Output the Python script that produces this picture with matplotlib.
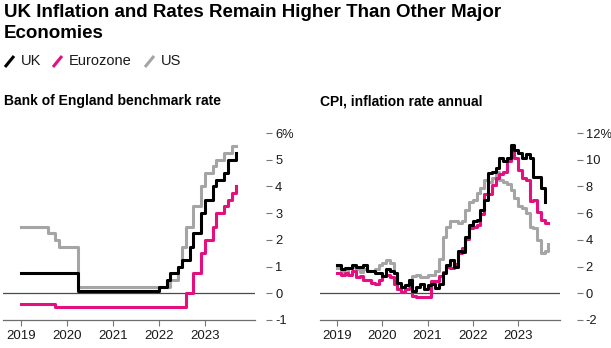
import numpy as np
import pandas as pd
import matplotlib
matplotlib.use("Agg")
import matplotlib.pyplot as plt
from matplotlib.lines import Line2D

plt.rcParams["font.family"] = ["Liberation Sans", "DejaVu Sans"]

# month slots, plotted Jan 2019 onwards (each value = previous month-end reading)
rate_months = pd.date_range("2019-01-01", periods=57, freq="MS")
cpi_months = pd.date_range("2019-01-01", periods=57, freq="MS")

# policy rates (%)
uk_rate = [0.75, 0.75, 0.75, 0.75, 0.75, 0.75, 0.75, 0.75, 0.75, 0.75, 0.75, 0.75,
           0.75, 0.75, 0.75, 0.1, 0.1, 0.1, 0.1, 0.1, 0.1, 0.1, 0.1, 0.1,
           0.1, 0.1, 0.1, 0.1, 0.1, 0.1, 0.1, 0.1, 0.1, 0.1, 0.1, 0.1,
           0.25, 0.25, 0.5, 0.75, 0.75, 1.0, 1.25, 1.25, 1.75, 2.25, 2.25, 3.0,
           3.5, 3.5, 4.0, 4.25, 4.25, 4.5, 5.0, 5.0, 5.25]
ez_rate = [-0.4, -0.4, -0.4, -0.4, -0.4, -0.4, -0.4, -0.4, -0.4, -0.5, -0.5, -0.5,
           -0.5, -0.5, -0.5, -0.5, -0.5, -0.5, -0.5, -0.5, -0.5, -0.5, -0.5, -0.5,
           -0.5, -0.5, -0.5, -0.5, -0.5, -0.5, -0.5, -0.5, -0.5, -0.5, -0.5, -0.5,
           -0.5, -0.5, -0.5, -0.5, -0.5, -0.5, -0.5, 0.0, 0.0, 0.75, 0.75, 1.5,
           2.0, 2.0, 2.5, 3.0, 3.0, 3.25, 3.5, 3.75, 4.0]
us_rate = [2.5, 2.5, 2.5, 2.5, 2.5, 2.5, 2.5, 2.25, 2.25, 2.0, 1.75, 1.75,
           1.75, 1.75, 1.75, 0.25, 0.25, 0.25, 0.25, 0.25, 0.25, 0.25, 0.25, 0.25,
           0.25, 0.25, 0.25, 0.25, 0.25, 0.25, 0.25, 0.25, 0.25, 0.25, 0.25, 0.25,
           0.25, 0.25, 0.25, 0.5, 0.5, 1.0, 1.75, 2.5, 2.5, 3.25, 3.25, 4.0,
           4.5, 4.5, 4.75, 5.0, 5.0, 5.25, 5.25, 5.5, 5.5]

# CPI, annual inflation (%)
uk_cpi = [2.1, 1.8, 1.9, 1.9, 2.1, 2.0, 2.0, 2.1, 1.7, 1.7, 1.5, 1.5,
          1.3, 1.8, 1.7, 1.5, 0.8, 0.5, 0.6, 1.0, 0.2, 0.5, 0.7, 0.3,
          0.6, 0.7, 0.4, 0.7, 1.5, 2.1, 2.5, 2.0, 3.2, 3.1, 4.2, 5.1,
          5.4, 5.5, 6.2, 7.0, 9.0, 9.1, 9.4, 10.1, 9.9, 10.1, 11.1, 10.7,
          10.5, 10.1, 10.4, 10.1, 8.7, 8.7, 7.9, 6.8]
ez_cpi = [1.5, 1.4, 1.5, 1.4, 1.7, 1.2, 1.3, 1.0, 1.0, 0.8, 0.7, 1.0,
          1.3, 1.4, 1.2, 0.7, 0.3, 0.1, 0.3, 0.4, -0.2, -0.3, -0.3, -0.3,
          -0.3, 0.9, 0.9, 1.3, 1.6, 2.0, 1.9, 2.2, 3.0, 3.4, 4.1, 4.9,
          5.0, 5.1, 5.9, 7.4, 7.4, 8.1, 8.6, 8.9, 9.1, 9.9, 10.6, 10.1,
          9.2, 8.6, 8.5, 6.9, 7.0, 6.1, 5.5, 5.3, 5.3]
us_cpi = [1.9, 1.6, 1.5, 1.9, 2.0, 1.8, 1.6, 1.8, 1.7, 1.7, 1.8, 2.1,
          2.3, 2.5, 2.3, 1.5, 0.3, 0.1, 0.6, 1.0, 1.3, 1.4, 1.2, 1.2,
          1.4, 1.4, 1.7, 2.6, 4.2, 5.0, 5.4, 5.4, 5.3, 5.4, 6.2, 6.8,
          7.0, 7.5, 7.9, 8.5, 8.3, 8.6, 9.1, 8.5, 8.3, 8.2, 7.7, 7.1,
          6.5, 6.4, 6.0, 5.0, 4.9, 4.0, 3.0, 3.2, 3.7]

years = [2019, 2020, 2021, 2022, 2023]
rate_ticks = [-1, 0, 1, 2, 3, 4, 5, 6]
cpi_ticks = [-2, 0, 2, 4, 6, 8, 10, 12]

UK_C = "#000000"
EZ_C = "#e4107f"
US_C = "#a5a5a5"
TXT = "#1a1a1a"


def dec_year(idx):
    return np.asarray(idx.year + (idx.month - 1) / 12.0)


def style_axes(ax, ticks, xlim, ylim, outward):
    ax.set_xlim(*xlim)
    ax.set_ylim(*ylim)
    for s in ("top", "left"):
        ax.spines[s].set_visible(False)
    ax.spines["right"].set_visible(False)
    ax.spines["right"].set_position(("outward", outward))
    ax.spines["bottom"].set_color("#6e6e6e")
    ax.spines["bottom"].set_linewidth(0.9)
    ax.axhline(0, color="#4a4a4a", lw=0.9, zorder=1)
    ax.yaxis.tick_right()
    ax.set_yticks(ticks)
    labels = [f"{t}%" if t == ticks[-1] else str(t) for t in ticks]
    ax.set_yticklabels(labels)
    ax.set_xticks(years)
    ax.set_xticklabels([str(y) for y in years])
    ax.tick_params(axis="y", length=4, width=0.8, color="#777777", pad=2.5,
                   labelsize=9.3, labelcolor=TXT)
    ax.tick_params(axis="x", length=4, width=0.8, color="#777777", pad=3,
                   labelsize=9.5, labelcolor=TXT)
    ax.patch.set_alpha(0)


fig = plt.figure(figsize=(6.11, 3.48), dpi=100)
W, H = 611.0, 348.0

ax1 = fig.add_axes([3 / W, 28 / H, 252 / W, 195 / H])
ax2 = fig.add_axes([320 / W, 28 / H, 240 / W, 195 / H])

xr = dec_year(rate_months)
ax1.plot(xr, us_rate, drawstyle="steps-post", color=US_C, lw=2.2, zorder=2)
ax1.plot(xr, uk_rate, drawstyle="steps-post", color=UK_C, lw=2.2, zorder=3)
ax1.plot(xr, ez_rate, drawstyle="steps-post", color=EZ_C, lw=2.2, zorder=4)
style_axes(ax1, rate_ticks, (2018.609, 2024.087), (-1, 6.3), 8)

xc = dec_year(cpi_months)
ax2.plot(xc, us_cpi, drawstyle="steps-post", color=US_C, lw=2.2, zorder=2)
ax2.plot(xc, ez_cpi, drawstyle="steps-post", color=EZ_C, lw=2.2, zorder=3)
ax2.plot(xc[:len(uk_cpi)], uk_cpi, drawstyle="steps-post", color=UK_C, lw=2.2, zorder=4)
style_axes(ax2, cpi_ticks, (2018.625, 2023.923), (-2, 12.6), 12)

# title and legend
fig.text(4 / W, 1 - 4 / H, "UK Inflation and Rates Remain Higher Than Other Major\nEconomies",
         ha="left", va="top", fontsize=13.5, fontweight="bold", color="#000000",
         linespacing=1.3)

leg_y = 1 - 61 / H
for x0, col, lab in [(5, UK_C, "UK"), (53, EZ_C, "Eurozone"), (145, US_C, "US")]:
    fig.add_artist(Line2D([x0 / W, (x0 + 9) / W], [(348 - 67) / H, (348 - 56) / H],
                          transform=fig.transFigure, color=col, lw=2.2,
                          solid_capstyle="butt"))
    fig.text((x0 + 16) / W, leg_y, lab, ha="left", va="center", fontsize=10.5, color=TXT)

fig.text(4 / W, 1 - 101 / H, "Bank of England benchmark rate", ha="left", va="center",
         fontsize=10, fontweight="bold", color="#000000")
fig.text(320 / W, 1 - 101 / H, "CPI, inflation rate annual", ha="left", va="center",
         fontsize=10, fontweight="bold", color="#000000")

fig.savefig("out.png", dpi=100)
